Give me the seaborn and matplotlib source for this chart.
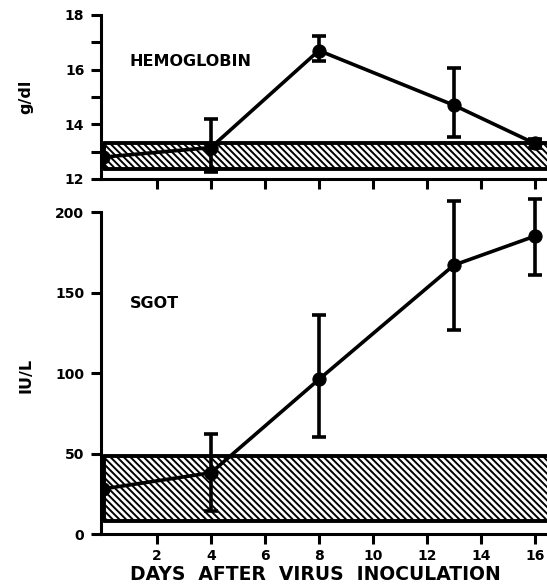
import matplotlib
matplotlib.use("Agg")
import matplotlib.pyplot as plt
import seaborn as sns
import pandas as pd
import numpy as np

sns.set_style("ticks")
plt.rcParams['font.family'] = ['DejaVu Sans']
plt.rcParams['font.weight'] = 'bold'
plt.rcParams['hatch.linewidth'] = 1.4
for k in ['text.color', 'axes.labelcolor', 'xtick.color', 'ytick.color', 'axes.edgecolor']:
    plt.rcParams[k] = 'black'

days = [0, 4, 8, 13, 16]
hgb_mean = [12.8, 13.15, 16.7, 14.7, 13.3]
hgb_low = [np.nan, 12.25, 16.3, 13.55, 13.15]
hgb_high = [np.nan, 14.2, 17.25, 16.05, 13.45]
hgb_normal = [12.37, 13.3]

sgot_mean = [28, 38, 96, 167, 185]
sgot_low = [np.nan, 14, 60, 127, 161]
sgot_high = [np.nan, 62, 136, 207, 208]
sgot_normal = [8, 48.5]

x_ticks = [2, 4, 6, 8, 10, 12, 14, 16]

fig = plt.figure(figsize=(5.47, 5.87), dpi=100)
W, H = 547, 587
AX_L = 101
ax1 = fig.add_axes([AX_L / W, 1 - 179 / H, (W - AX_L) / W, (179 - 15) / H])
ax2 = fig.add_axes([AX_L / W, 1 - 534 / H, (W - AX_L) / W, (534 - 212) / H])

xlim = (-0.07, 16.45)

def panel(ax, mean, low, high, normal, ylim, label, ylab, lab_xy):
    ax.fill_between([0.05, 18], normal[0], normal[1], facecolor='white',
                    edgecolor='black', hatch='\\\\\\\\\\', linewidth=2.8, zorder=1)
    df = pd.DataFrame({'day': days, 'val': mean})
    sns.lineplot(data=df, x='day', y='val', ax=ax, color='black', linewidth=2.6,
                 marker='o', markersize=9.5, markeredgecolor='black', zorder=3)
    m = np.array(mean, float); lo = np.array(low, float); hi = np.array(high, float)
    ok = ~np.isnan(lo)
    d = np.array(days)[ok]
    eb = ax.errorbar(d, m[ok], yerr=[m[ok] - lo[ok], hi[ok] - m[ok]], fmt='none',
                     ecolor='black', elinewidth=2.6, capsize=5, capthick=2.6, zorder=3)
    for art in list(eb.lines[1]) + list(eb.lines[2]):
        art.set_clip_on(False)
    ax.set_xlim(*xlim)
    ax.set_ylim(*ylim)
    ax.set_xticks(x_ticks)
    ax.set_xlabel('')
    ax.set_ylabel(ylab, fontsize=11.5, fontweight='bold')
    ax.text(lab_xy[0], lab_xy[1], label, fontsize=11.5, fontweight='bold',
            va='center', transform=ax.transData)
    sns.despine(ax=ax, top=True, right=True)
    for s in ['left', 'bottom']:
        ax.spines[s].set_linewidth(2.2)
    ax.tick_params(axis='both', which='major', direction='out', length=7, width=2.2,
                   labelsize=10, pad=5)
    ax.tick_params(axis='both', which='minor', direction='out', length=7, width=2.2)
    for t in ax.get_xticklabels() + ax.get_yticklabels():
        t.set_fontweight('bold')

panel(ax1, hgb_mean, hgb_low, hgb_high, hgb_normal, (12, 18), 'HEMOGLOBIN', 'g/dl', (1.0, 16.3))
ax1.set_yticks([12, 14, 16, 18])
ax1.set_yticks([13, 15, 17], minor=True)
ax1.set_xticklabels([])

panel(ax2, sgot_mean, sgot_low, sgot_high, sgot_normal, (0, 200), 'SGOT', 'IU/L', (1.0, 143))
ax2.set_yticks([0, 50, 100, 150, 200])
ax2.set_xticklabels([str(t) for t in x_ticks], fontweight='bold', fontsize=10)
ax2.tick_params(axis='x', pad=4)
ax2.set_xlabel('DAYS  AFTER  VIRUS  INOCULATION', fontsize=13.5, fontweight='bold')
ax2.xaxis.set_label_coords((315 - AX_L) / (W - AX_L), -(575 - 534) / (534 - 212))
ax2.xaxis.label.set_va('center')

ax1.yaxis.set_label_coords(-(AX_L - 26) / (W - AX_L), 0.5)
ax2.yaxis.set_label_coords(-(AX_L - 26) / (W - AX_L), (534 - 375) / (534 - 212))
for ax in (ax1, ax2):
    ax.yaxis.label.set_va('center')

fig.savefig('out.png', dpi=100)
